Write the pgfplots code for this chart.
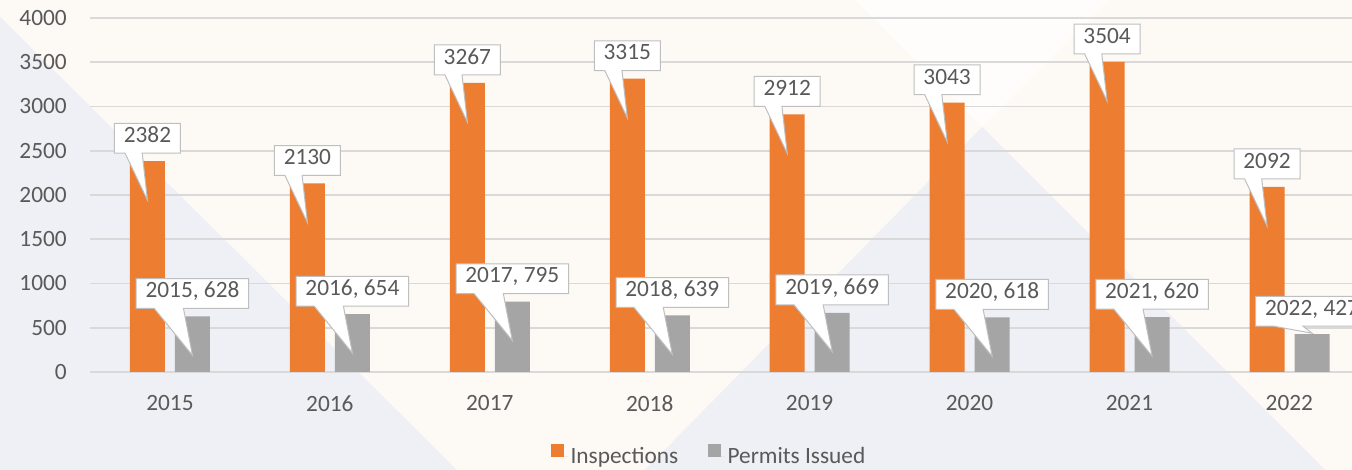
\documentclass[border=0pt]{standalone}
\usepackage{fontspec}
\setmainfont{Carlito}
\usepackage{pgfplots}
\pgfplotsset{compat=1.18}
\usepackage{pgfplotstable}

\definecolor{bgcream}{RGB}{253,250,246}
\definecolor{bgwhite}{RGB}{254,253,251}
\definecolor{bgblue}{RGB}{239,240,245}
\definecolor{insp}{RGB}{237,125,49}
\definecolor{perm}{RGB}{165,165,165}
\definecolor{txtgray}{RGB}{89,89,89}
\definecolor{gridgray}{RGB}{217,217,217}
\definecolor{boxgray}{RGB}{191,191,191}

\newcommand\lblfont{\fontsize{17.5pt}{21pt}\selectfont}

\newdimen\xlA \newdimen\xlB \newdimen\xlC \newdimen\xlD \newdimen\xlE
\newdimen\xlF \newdimen\xlG \newdimen\xlH \newdimen\xlI
\newdimen\xltip \xltip=35.25pt

\makeatletter
\pgfdeclareshape{xlcallout}{
  \inheritsavedanchors[from=rectangle]
  \inheritanchorborder[from=rectangle]
  \inheritanchor[from=rectangle]{center}
  \inheritanchor[from=rectangle]{south}
  \inheritanchor[from=rectangle]{north}
  \inheritanchor[from=rectangle]{east}
  \inheritanchor[from=rectangle]{west}
  \inheritanchor[from=rectangle]{south west}
  \inheritanchor[from=rectangle]{south east}
  \inheritanchor[from=rectangle]{north west}
  \inheritanchor[from=rectangle]{north east}
  \inheritanchor[from=rectangle]{base}
  \inheritanchor[from=rectangle]{mid}
  \backgroundpath{%
    \southwest \xlA=\pgf@x \xlB=\pgf@y
    \northeast \xlC=\pgf@x \xlD=\pgf@y
    \xlE=\xlC \advance\xlE by -\xlA
    \xlF=0.16\xlE \advance\xlF by \xlA
    \xlG=0.42\xlE \advance\xlG by \xlA
    \xlH=0.5\xlE \advance\xlH by \xlA
    \xlI=\xlB \advance\xlI by -\xltip
    \pgfpathmoveto{\pgfqpoint{\xlA}{\xlB}}%
    \pgfpathlineto{\pgfqpoint{\xlF}{\xlB}}%
    \pgfpathlineto{\pgfqpoint{\xlH}{\xlI}}%
    \pgfpathlineto{\pgfqpoint{\xlG}{\xlB}}%
    \pgfpathlineto{\pgfqpoint{\xlC}{\xlB}}%
    \pgfpathlineto{\pgfqpoint{\xlC}{\xlD}}%
    \pgfpathlineto{\pgfqpoint{\xlA}{\xlD}}%
    \pgfpathclose
  }
}
\makeatother

\tikzset{
  xltip/.code={\pgfmathsetlength\xltip{#1}},
  xlcall/.style={shape=xlcallout, fill=white, draw=boxgray, line width=0.75pt,
    inner xsep=7pt, inner ysep=8pt, text height=0.64em, text depth=0pt,
    outer sep=0pt, anchor=south, yshift=6pt, font=\lblfont, text=txtgray}
}

\pgfplotstableread{
year insp perm tip
2015 2382 628 47
2016 2130 654 47
2017 3267 795 47
2018 3315 639 47
2019 2912 669 47
2020 3043 618 47
2021 3504 620 47
2022 2092 427 7
}\datatable

\begin{document}
\begin{tikzpicture}
\useasboundingbox (0,0) rectangle (1014pt,352.5pt);
\clip (0,0) rectangle (1014pt,352.5pt);
\fill[bgcream] (0,0) rectangle (1014pt,352.5pt);
\fill[bgwhite] (641.25pt,352.5pt) -- (831.75pt,352.5pt) -- (736.5pt,257.25pt) -- cycle;
\fill[bgblue] (0pt,339.75pt) -- (342.75pt,0pt) -- (0pt,0pt) -- cycle;
\fill[bgblue] (736.5pt,257.25pt) -- (483.75pt,0pt) -- (993.75pt,0pt) -- cycle;
\begin{axis}[
  at={(67.5pt,73.5pt)}, anchor=south west,
  scale only axis, width=959.6pt, height=265.5pt,
  xmin=2014.5, xmax=2022.5, ymin=0, ymax=4000,
  ytick={0,500,...,4000}, xtick={2015,...,2022},
  ymajorgrids, major grid style={gridgray, line width=1.2pt},
  axis line style={draw=none}, major tick length=0pt, tick style={draw=none},
  /pgf/number format/1000 sep={}, /pgf/number format/assume math mode=true,
  ticklabel style={font=\lblfont, text=txtgray, inner sep=0pt},
  yticklabel style={anchor=east, xshift=-17.25pt},
  xticklabel style={anchor=north, yshift=-17.25pt},
  ybar, bar width=26.25pt, clip=false,
  legend style={at={(0.4840,-0.2373)}, anchor=center, legend columns=2,
    draw=none, fill=none, font=\lblfont, text=txtgray,
    /tikz/every even column/.append style={column sep=20pt}},
  legend image code/.code={\path (0pt,0pt) -- (13pt,0pt);\fill[#1] (0pt,-1pt) rectangle (9.75pt,8.75pt);},
]
\addplot[fill=insp, draw=none, bar shift=-16.875pt,
  nodes near coords={\pgfmathprintnumber{\pgfplotspointmeta}},
  every node near coord/.append style={xlcall, xltip=35.25pt}]
  table[x=year, y=insp] {\datatable};
\addlegendentry{Inspections}
\addplot[fill=perm, draw=none, bar shift=16.875pt,
  visualization depends on={x \as \yr},
  visualization depends on={\thisrow{tip} \as \tipd},
  nodes near coords={\pgfmathprintnumber[fixed,precision=0,1000 sep={}]{\yr}, \pgfmathprintnumber{\pgfplotspointmeta}},
  every node near coord/.append style={xlcall, xltip={\tipd*0.75pt}}]
  table[x=year, y=perm] {\datatable};
\addlegendentry{Permits Issued}
\end{axis}
\end{tikzpicture}
\end{document}
